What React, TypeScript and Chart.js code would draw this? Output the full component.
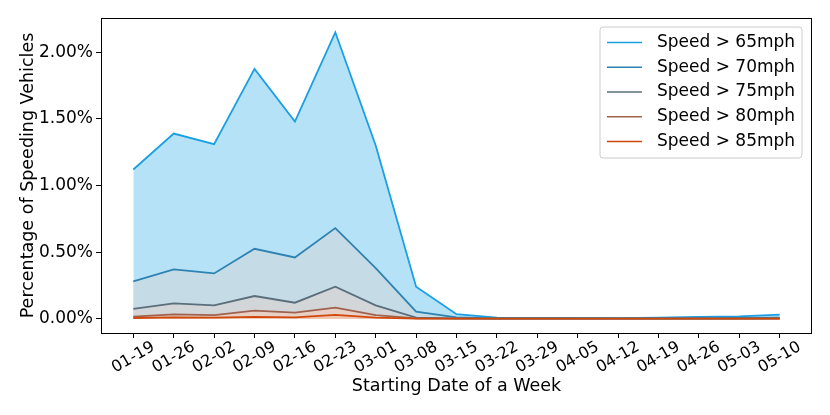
import React, { useEffect, useRef } from "react";
import { Chart, registerables } from "chart.js";

Chart.register(...registerables);

const weeks = ["01-19", "01-26", "02-02", "02-09", "02-16", "02-23", "03-01", "03-08", "03-15", "03-22", "03-29", "04-05", "04-12", "04-19", "04-26", "05-03", "05-10"];

const speed65 = [1.12, 1.39, 1.31, 1.875, 1.48, 2.15, 1.30, 0.24, 0.034, 0.008, 0.005, 0.005, 0.004, 0.008, 0.013, 0.018, 0.03];
const speed70 = [0.28, 0.37, 0.34, 0.525, 0.46, 0.68, 0.38, 0.053, 0.01, 0.003, 0.002, 0.002, 0.002, 0.003, 0.004, 0.005, 0.007];
const speed75 = [0.073, 0.115, 0.1, 0.17, 0.12, 0.24, 0.1, 0.008, 0.002, 0.001, 0.001, 0.001, 0.001, 0.001, 0.001, 0.001, 0.002];
const speed80 = [0.015, 0.033, 0.026, 0.06, 0.045, 0.083, 0.026, 0.003, 0.001, 0, 0, 0, 0, 0, 0, 0, 0.001];
const speed85 = [0.005, 0.01, 0.008, 0.013, 0.01, 0.028, 0.008, 0.001, 0, 0, 0, 0, 0, 0, 0, 0, 0];

const seriesLabels = ["Speed > 65mph", "Speed > 70mph", "Speed > 75mph", "Speed > 80mph", "Speed > 85mph"];
const seriesValues = [speed65, speed70, speed75, speed80, speed85];
const lineColors = ["#1a9fe3", "#2e82b2", "#5b6e7b", "#a0624e", "#d0490c"];
const fillColors = ["#b5e2f7", "#c5dce6", "#d3d6d8", "#e9d0c6", "#f3c3ab"];

const yTicks = [0, 0.5, 1.0, 1.5, 2.0];
const FONT = "DejaVu Sans";

const framePlugin = {
  id: "frame",
  afterDatasetsDraw(chart: any) {
    const { ctx, chartArea } = chart;
    ctx.save();
    ctx.strokeStyle = "#000";
    ctx.lineWidth = 1;
    ctx.strokeRect(Math.round(chartArea.left) + 0.5, Math.round(chartArea.top) + 0.5, Math.round(chartArea.right - chartArea.left) - 1, Math.round(chartArea.bottom - chartArea.top));
    ctx.restore();
  },
  afterDraw(chart: any) {
    const { ctx, chartArea } = chart;
    // rotated, centred x tick labels (matplotlib style)
    const xs = chart.scales.x;
    ctx.save();
    ctx.font = `16px "${FONT}"`;
    ctx.fillStyle = "#000";
    ctx.textAlign = "center";
    ctx.textBaseline = "middle";
    weeks.forEach((w, i) => {
      const px = xs.getPixelForValue(i);
      ctx.save();
      ctx.translate(px, chartArea.bottom + 24.5);
      ctx.rotate(-Math.PI / 6);
      ctx.fillText(w, 0, 0);
      ctx.restore();
    });
    ctx.restore();

    // legend
    const W = 202;
    const boxRight = chartArea.right - 10;
    const boxLeft = boxRight - W;
    const boxTop = chartArea.top + 9;
    const boxH = 131;
    ctx.save();
    ctx.beginPath();
    const r = 3;
    ctx.moveTo(boxLeft + r, boxTop);
    ctx.arcTo(boxLeft + W, boxTop, boxLeft + W, boxTop + boxH, r);
    ctx.arcTo(boxLeft + W, boxTop + boxH, boxLeft, boxTop + boxH, r);
    ctx.arcTo(boxLeft, boxTop + boxH, boxLeft, boxTop, r);
    ctx.arcTo(boxLeft, boxTop, boxLeft + W, boxTop, r);
    ctx.closePath();
    ctx.fillStyle = "rgba(255,255,255,0.85)";
    ctx.fill();
    ctx.strokeStyle = "#cccccc";
    ctx.lineWidth = 1;
    ctx.stroke();
    ctx.font = `17px "${FONT}"`;
    ctx.textBaseline = "middle";
    ctx.textAlign = "left";
    seriesLabels.forEach((lab, i) => {
      const y = boxTop + 15.5 + i * 24.75;
      ctx.beginPath();
      ctx.strokeStyle = lineColors[i];
      ctx.lineWidth = 1.5;
      ctx.moveTo(boxLeft + 7, y);
      ctx.lineTo(boxLeft + 42, y);
      ctx.stroke();
      ctx.fillStyle = "#000";
      ctx.fillText(lab, boxLeft + 57, y);
    });
    ctx.restore();
  },
};

export default function App() {
  const ref = useRef<HTMLCanvasElement | null>(null);
  useEffect(() => {
    if (!ref.current) return;
    const chart = new Chart(ref.current, {
      type: "line",
      data: {
        datasets: seriesValues.map((vals, i) => ({
          label: seriesLabels[i],
          data: vals.map((v, k) => ({ x: k, y: v })),
          borderColor: lineColors[i],
          backgroundColor: fillColors[i],
          borderWidth: 1.8,
          pointRadius: 0,
          tension: 0,
          fill: "origin",
          order: 5 - i,
        })),
      },
      options: {
        responsive: false,
        animation: false,
        events: [],
        layout: { padding: { top: 18, right: 18, left: 0, bottom: 0 } },
        plugins: { legend: { display: false }, tooltip: { enabled: false } },
        scales: {
          x: {
            type: "linear",
            min: -0.8,
            max: 16.8,
            afterBuildTicks: (axis: any) => {
              axis.ticks = weeks.map((_, i) => ({ value: i }));
            },
            afterFit: (s: any) => {
              s.height = 82;
            },
            ticks: {
              autoSkip: false,
              display: false,
            },
            grid: { drawOnChartArea: false, drawTicks: true, tickLength: 5, color: "#000" },
            border: { display: false },
            title: {
              display: true,
              text: "Starting Date of a Week",
              color: "#000",
              font: { family: FONT, size: 17.5 },
              padding: { top: 0, bottom: 18.5 },
            },
          },
          y: {
            type: "linear",
            min: -0.1075,
            max: 2.2575,
            afterBuildTicks: (axis: any) => {
              axis.ticks = yTicks.map((v) => ({ value: v }));
            },
            afterFit: (s: any) => {
              s.width = 101;
            },
            ticks: {
              padding: 3,
              color: "#000",
              font: { family: FONT, size: 17 },
              callback: (v: any) => Number(v).toFixed(2) + "%",
            },
            grid: { drawOnChartArea: false, drawTicks: true, tickLength: 5, color: "#000" },
            border: { display: false },
            title: {
              display: true,
              text: "Percentage of Speeding Vehicles",
              color: "#000",
              font: { family: FONT, size: 17.5 },
              padding: { top: 17.5, bottom: 0 },
            },
          },
        },
      },
      plugins: [framePlugin],
    } as any);
    return () => chart.destroy();
  }, []);
  return (
    <div style={{ position: "absolute", left: 0, top: 0, width: 830, height: 415, background: "#fff" }}>
      <canvas ref={ref} width={830} height={415} style={{ display: "block" }} />
    </div>
  );
}
